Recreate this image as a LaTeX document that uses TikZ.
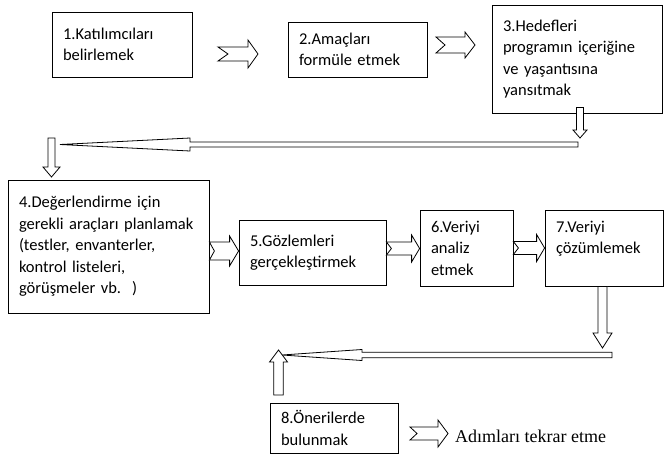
\documentclass[tikz,border=0pt]{standalone}
\usepackage{fontspec}
\setmainfont{Carlito}
\newfontfamily\serifyazi{Liberation Serif}
\usetikzlibrary{calc}
% blok ok: {kuyruk}{uc}{govde yari gen.}{bas yari gen.}{bas boyu}{centik}
\newcommand{\blokok}[6]{%
	\draw[okcizgi] ($(#1)!#3!90:(#2)$) -- ($(#2)!#5!(#1)!#3!90:(#2)$) -- ($(#2)!#5!(#1)!#4!90:(#2)$) -- (#2)
	-- ($(#2)!#5!(#1)!#4!-90:(#2)$) -- ($(#2)!#5!(#1)!#3!-90:(#2)$) -- ($(#1)!#3!-90:(#2)$) -- ($(#1)!#6!(#2)$) -- cycle;}
\begin{document}
\begin{tikzpicture}[x=1pt,y=-1pt]
			% Stiller
			\tikzstyle{kutu}=[draw, line width=.8pt, inner xsep=11pt, inner ysep=0pt, align=left, font=\fontsize{16.5}{21.5}\selectfont]
			\tikzstyle{okcizgi}=[draw, line width=.8pt, fill=white, line join=miter]
			\tikzstyle{yorum}=[inner sep=0pt, font=\serifyazi\fontsize{18}{20}\selectfont]
			\useasboundingbox (0,0) rectangle (666,463);
			% Kutular
			\node[kutu, text width=118pt, minimum height=65pt] (K1) at (122,44.5) {1.Katılımcıları\\belirlemek};
			\node[kutu, text width=117pt, minimum height=55pt] (K2) at (357.5,49.5) {2.Amaçları\\formüle etmek};
			\node[kutu, text width=148pt, minimum height=108pt] (K3) at (577,59) {3.Hedefleri\\programın içeriğine\\ve yaşantısına\\yansıtmak};
			\node[kutu, text width=179pt, minimum height=133pt] (K4) at (108.5,246.5) {4.Değerlendirme için\\gerekli araçları planlamak\\(testler, envanterler,\\kontrol listeleri,\\görüşmeler vb.~~)};
			\node[kutu, text width=125pt, minimum height=65pt] (K5) at (312.5,252.5) {5.Gözlemleri\\gerçekleştirmek};
			\node[kutu, text width=71pt, minimum height=76pt] (K6) at (466.5,248) {6.Veriyi\\analiz\\etmek};
			\node[kutu, text width=96pt, minimum height=76pt] (K7) at (604,248) {7.Veriyi\\çözümlemek\\\mbox{}};
			\node[kutu, text width=106pt, minimum height=50pt] (K8) at (334,428) {8.Önerilerde\\bulunmak};
			\node[yorum, anchor=base west] (T) at (455,442) {Adımları tekrar etme};
			% Ok uclari
			\coordinate (O12a) at (218,54);  \coordinate (O12b) at (258,54);
			\coordinate (O23a) at (436,45);  \coordinate (O23b) at (475,45);
			\coordinate (O3a) at ($(K3.south)+(3,-6)$);  \coordinate (O3b) at (580,138);
			\coordinate (U1a) at (578,144.5);  \coordinate (U1b) at (60,144.5);
			\coordinate (O4a) at (51.5,138);  \coordinate (O4b) at (51.5,177);
			\coordinate (O45a) at ($(K4.east)+(0,4.5)$);  \coordinate (O45b) at (K5.west |- O45a);
			\coordinate (O56a) at ($(K5.east)+(0,-4)$);  \coordinate (O56b) at (K6.west |- O56a);
			\coordinate (O67a) at (K7.west -| K6.east);  \coordinate (O67b) at (K7.west);
			\coordinate (O7a) at ($(K7.south)+(-1.5,0)$);  \coordinate (O7b) at (602.5,348);
			\coordinate (U2a) at (612,355);  \coordinate (U2b) at (282,355);
			\coordinate (O8a) at (278.5,395);  \coordinate (O8b) at (278.5,350);
			\coordinate (O8Ta) at (410,433.5);  \coordinate (O8Tb) at ($(T.west |- O8Ta)+(-7,0)$);
			% Oklar
			\blokok{O12a}{O12b}{7pt}{14pt}{10pt}{10pt}
			\blokok{O23a}{O23b}{8pt}{13pt}{10pt}{9pt}
			\blokok{O3a}{O3b}{3.5pt}{7pt}{8pt}{0pt}
			\blokok{U1a}{U1b}{2.5pt}{6.5pt}{130pt}{0pt}
			\blokok{O4a}{O4b}{3.5pt}{8.5pt}{10pt}{0pt}
			\blokok{O45a}{O45b}{9pt}{15pt}{9pt}{5pt}
			\blokok{O56a}{O56b}{6.5pt}{13.5pt}{8pt}{5pt}
			\blokok{O67a}{O67b}{6.5pt}{13.5pt}{8pt}{5pt}
			\blokok{O7a}{O7b}{4.5pt}{9.5pt}{15pt}{0pt}
			\blokok{U2a}{U2b}{2.7pt}{5.5pt}{80pt}{0pt}
			\blokok{O8a}{O8b}{4.7pt}{9pt}{12pt}{0pt}
			\blokok{O8Ta}{O8Tb}{6.5pt}{13.5pt}{10pt}{7pt}
\end{tikzpicture}
\end{document}
